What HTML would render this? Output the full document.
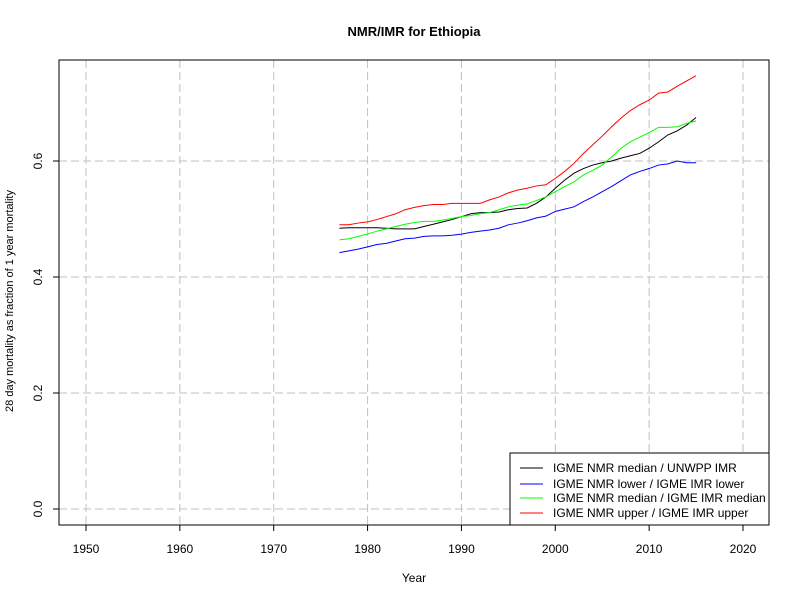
<!DOCTYPE html>
<html><head><meta charset="utf-8"><style>
body{margin:0;background:#fff}
svg{display:block;font-family:"Liberation Sans",Arial,sans-serif}
</style></head><body>
<svg id="chart" width="800" height="600">
<text x="414" y="36" text-anchor="middle" font-size="13" font-weight="bold">NMR/IMR for Ethiopia</text>
<text x="414" y="582" text-anchor="middle" font-size="12">Year</text>
<text transform="translate(13,301) rotate(-90)" text-anchor="middle" font-size="11">28 day mortality as fraction of 1 year mortality</text>
<g id="grid"></g><g id="axes"></g><g id="series"></g>
<rect x="59" y="60" width="710" height="465" fill="none" stroke="#000"/>
<g>
<rect x="510" y="453" width="259" height="72" fill="#fff" stroke="#000"/>
<line x1="520" x2="543" y1="468" y2="468" stroke="#000"/>
<text x="553" y="472" font-size="12">IGME NMR median / UNWPP IMR</text>
<line x1="520" x2="543" y1="484" y2="484" stroke="#0000ff"/>
<text x="553" y="488" font-size="12">IGME NMR lower / IGME IMR lower</text>
<line x1="520" x2="543" y1="498" y2="498" stroke="#00ff00"/>
<text x="553" y="502" font-size="12">IGME NMR median / IGME IMR median</text>
<line x1="520" x2="543" y1="513" y2="513" stroke="#ff0000"/>
<text x="553" y="517" font-size="12">IGME NMR upper / IGME IMR upper</text>
</g>
</svg>
<script>
const years=[];for(let y=1977;y<=2015;y++)years.push(y);
const xTicks=[1950,1960,1970,1980,1990,2000,2010,2020];
const yTicks=[0,0.2,0.4,0.6];
const yTickLabels=["0.0","0.2","0.4","0.6"];
const unwppSeries=[0.484,0.485,0.485,0.485,0.485,0.484,0.483,0.483,0.483,0.487,0.491,0.495,0.499,0.504,0.509,0.511,0.511,0.512,0.516,0.518,0.519,0.527,0.538,0.553,0.567,0.579,0.587,0.593,0.597,0.600,0.605,0.609,0.613,0.622,0.633,0.645,0.652,0.662,0.675];
const lowerSeries=[0.442,0.445,0.448,0.452,0.456,0.458,0.462,0.466,0.467,0.470,0.471,0.471,0.472,0.474,0.477,0.479,0.481,0.484,0.490,0.493,0.497,0.502,0.505,0.513,0.517,0.521,0.530,0.538,0.547,0.556,0.566,0.576,0.582,0.587,0.593,0.595,0.600,0.597,0.597];
const medianSeries=[0.464,0.466,0.470,0.474,0.479,0.483,0.487,0.491,0.494,0.496,0.496,0.498,0.501,0.504,0.506,0.509,0.511,0.516,0.521,0.524,0.526,0.532,0.538,0.547,0.556,0.564,0.576,0.584,0.593,0.607,0.622,0.633,0.641,0.649,0.658,0.658,0.659,0.665,0.669];
const upperSeries=[0.490,0.490,0.493,0.495,0.499,0.504,0.509,0.516,0.520,0.523,0.525,0.525,0.527,0.527,0.527,0.527,0.533,0.538,0.545,0.550,0.553,0.557,0.559,0.570,0.582,0.596,0.613,0.628,0.643,0.659,0.674,0.687,0.697,0.705,0.717,0.719,0.729,0.738,0.747];
const NS='http://www.w3.org/2000/svg';
const xS=y=>86+(y-1950)*657/70;
const yS=v=>509-v*580;
function mk(tag,attrs,parent){const e=document.createElementNS(NS,tag);for(const k in attrs)e.setAttribute(k,attrs[k]);document.getElementById(parent).appendChild(e);return e;}
xTicks.forEach(t=>{
 const g=mk('line',{x1:xS(t),x2:xS(t),y1:60,y2:525,stroke:'#c0c0c0','stroke-dasharray':'8,4'},'grid');
 
 
 const tk=mk('line',{x1:xS(t),x2:xS(t),y1:525,y2:531,stroke:'#000'},'axes');
 
 
 const l=mk('text',{x:xS(t),y:553,'text-anchor':'middle','font-size':12},'axes');l.textContent=t;
 
 
});
yTicks.forEach((t,i)=>{
 const g=mk('line',{x1:59,x2:769,y1:yS(t),y2:yS(t),stroke:'#c0c0c0','stroke-dasharray':'8,4'},'grid');
 
 
 const tk=mk('line',{x1:53,x2:59,y1:yS(t),y2:yS(t),stroke:'#000'},'axes');
 
 
 const l=mk('text',{transform:`translate(42,${yS(t)}) rotate(-90)`,'text-anchor':'middle','font-size':12},'axes');l.textContent=yTickLabels[i];
 
 
});
[[unwppSeries,'#000','line-unwpp'],[lowerSeries,'#0000ff','line-lower'],[medianSeries,'#00ff00','line-median'],[upperSeries,'#ff0000','line-upper']].forEach(([s,c,n])=>{
 const p=mk('polyline',{points:s.map((v,i)=>xS(years[i])+','+yS(v)).join(' '),fill:'none',stroke:c,'stroke-width':1},'series');
 
 
});
</script>
</body></html>
